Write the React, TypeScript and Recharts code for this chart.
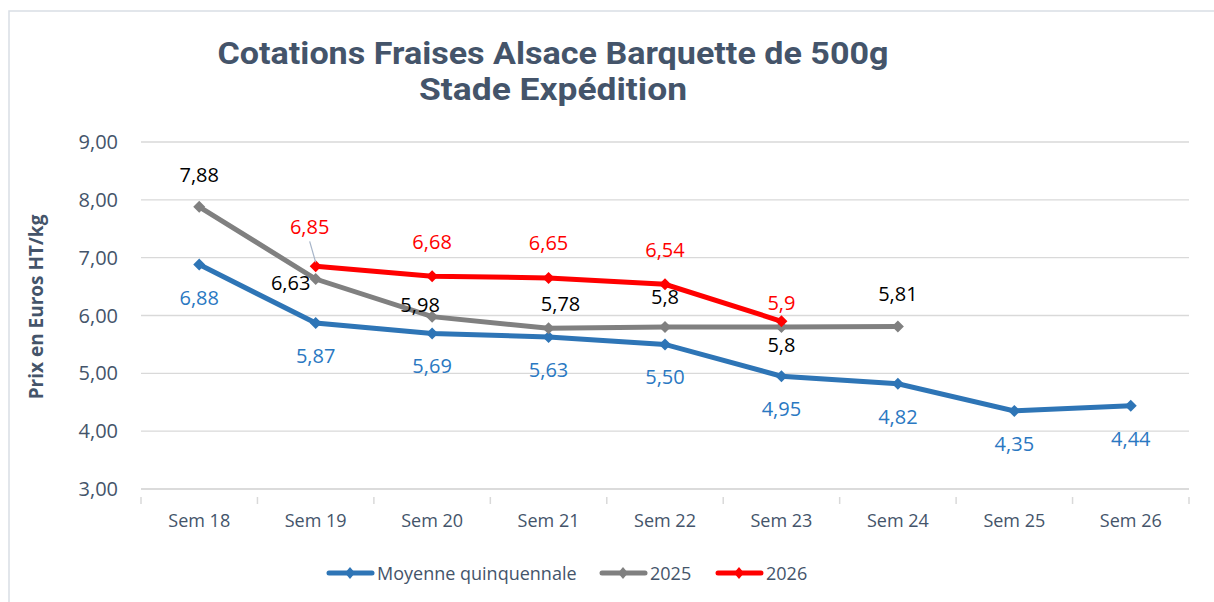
import React from 'react';
import { LineChart, Line, XAxis, YAxis, CartesianGrid } from 'recharts';

const weeks = ['Sem 18', 'Sem 19', 'Sem 20', 'Sem 21', 'Sem 22', 'Sem 23', 'Sem 24', 'Sem 25', 'Sem 26'];
const moyenne = [6.88, 5.87, 5.69, 5.63, 5.5, 4.95, 4.82, 4.35, 4.44];
const y2025 = [7.88, 6.63, 5.98, 5.78, 5.8, 5.8, 5.81, null, null];
const y2026 = [null, 6.85, 6.68, 6.65, 6.54, 5.9, null, null, null];
const yTicks = [3, 4, 5, 6, 7, 8, 9];

// label placement per point: [dx, dy] of text centre relative to the point
const offMoy = moyenne.map(() => [0, 33]);
const off2025 = [[0, -32], [-25, 4], [-12, -12], [12, -24], [0, -30], [0, 18], [0, -32], [0, 0], [0, 0]];
const off2026 = [[0, 0], [-6, -39], [0, -34], [0, -35], [0, -34], [0, -18], [0, 0], [0, 0], [0, 0]];

const data = weeks.map((w, i) => ({ week: w, moy: moyenne[i], a2025: y2025[i], a2026: y2026[i] }));

const BLUE = '#2e75b6';
const GRAY = '#808080';
const RED = '#ff0000';
const SLATE = '#44546a';
const FONT = '"Open Sans", sans-serif';
const HALF_BAND = 1048 / 9 / 2;

const fmt = (v: number, two: boolean) => (two ? v.toFixed(2) : String(v)).replace('.', ',');

const diamond = (color: string) => (props: any) => {
  const { cx, cy, index, value } = props;
  if (value == null || cx == null || cy == null) return <g key={`d-${index}`} />;
  const s = 6;
  return (
    <polygon
      key={`d-${index}`}
      points={`${cx},${cy - s} ${cx + s},${cy} ${cx},${cy + s} ${cx - s},${cy}`}
      fill={color}
    />
  );
};

const makeLabel = (color: string, offsets: number[][], two: boolean, leader?: number) => (props: any) => {
  const { x, y, value, index } = props;
  if (value == null) return null;
  const [dx, dy] = offsets[index];
  return (
    <g key={`l-${index}`}>
      {leader === index && (
        <line x1={x + dx} y1={y + dy + 14} x2={x} y2={y - 4} stroke="#a6b4c8" strokeWidth={1.2} />
      )}
      <text x={x + dx} y={y + dy + 7} textAnchor="middle" fontSize={20} fontFamily={FONT} fill={color}>
        {fmt(value, two)}
      </text>
    </g>
  );
};

const XTick = (props: any) => {
  const { x, y, payload, index } = props;
  return (
    <g>
      <line x1={x - HALF_BAND} y1={y} x2={x - HALF_BAND} y2={y + 7} stroke="#d9d9d9" strokeWidth={1.5} />
      {index === weeks.length - 1 && (
        <line x1={x + HALF_BAND} y1={y} x2={x + HALF_BAND} y2={y + 7} stroke="#d9d9d9" strokeWidth={1.5} />
      )}
      <text x={x} y={y + 30} textAnchor="middle" fontSize={18} fontFamily={FONT} fill={SLATE}>
        {payload.value}
      </text>
    </g>
  );
};

const legendItems = [
  { name: 'Moyenne quinquennale', color: BLUE, x: 327 },
  { name: '2025', color: GRAY, x: 600 },
  { name: '2026', color: RED, x: 716 },
];

export default function App() {
  return (
    <div style={{ position: 'absolute', left: 0, top: 0, width: 1214, height: 602, background: '#fff' }}>
      <svg width={1214} height={602} style={{ position: 'absolute', left: 0, top: 0 }}>
        <rect x={9} y={11} width={1220} height={600} fill="none" stroke="#d9dee5" strokeWidth={1.5} />
        <text x={553} y={64} textAnchor="middle" fontSize={31} fontWeight={700} fontFamily="Roboto, sans-serif"
          fill={SLATE} textLength={671} lengthAdjust="spacingAndGlyphs">
          Cotations Fraises Alsace Barquette de 500g
        </text>
        <text x={553} y={100} textAnchor="middle" fontSize={31} fontWeight={700} fontFamily="Roboto, sans-serif"
          fill={SLATE} textLength={268} lengthAdjust="spacingAndGlyphs">
          Stade Expédition
        </text>
        <text x={43} y={307} textAnchor="middle" fontSize={19} fontWeight={700} fontFamily={FONT} fill={SLATE}
          transform="rotate(-90 43 307)">
          Prix en Euros HT/kg
        </text>
        {legendItems.map((it) => (
          <g key={it.name}>
            <line x1={it.x + 2} y1={573} x2={it.x + 45} y2={573} stroke={it.color} strokeWidth={5} strokeLinecap="round" />
            <polygon points={`${it.x + 23},567 ${it.x + 28},573 ${it.x + 23},579 ${it.x + 18},573`} fill={it.color} />
            <text x={it.x + 50} y={580} fontSize={18} fontFamily={FONT} fill={SLATE}>{it.name}</text>
          </g>
        ))}
      </svg>
      <div style={{ position: 'absolute', left: 0, top: 0 }}>
        <LineChart width={1214} height={602} data={data} margin={{ top: 142, right: 25, bottom: 83, left: 0 }}>
          <CartesianGrid vertical={false} stroke="#d9d9d9" strokeWidth={1.3} />
          <XAxis
            dataKey="week"
            height={30}
            padding={{ left: HALF_BAND, right: HALF_BAND }}
            axisLine={{ stroke: '#d9d9d9', strokeWidth: 1.5 }}
            tickLine={false}
            tick={<XTick />}
            interval={0}
          />
          <YAxis
            width={141}
            domain={[3, 9]}
            ticks={yTicks}
            axisLine={false}
            tickLine={false}
            tickMargin={17}
            tickFormatter={(v: number) => fmt(v, true)}
            tick={{ fill: SLATE, fontSize: 20, fontFamily: FONT }}
          />
          <Line dataKey="moy" stroke={BLUE} strokeWidth={5} dot={diamond(BLUE)} isAnimationActive={false}
            label={makeLabel('#2a78c2', offMoy, true)} />
          <Line dataKey="a2025" stroke={GRAY} strokeWidth={5} dot={diamond(GRAY)} isAnimationActive={false}
            label={makeLabel('#000', off2025, false)} />
          <Line dataKey="a2026" stroke={RED} strokeWidth={5} dot={diamond(RED)} isAnimationActive={false}
            label={makeLabel(RED, off2026, false, 1)} />
        </LineChart>
      </div>
    </div>
  );
}
